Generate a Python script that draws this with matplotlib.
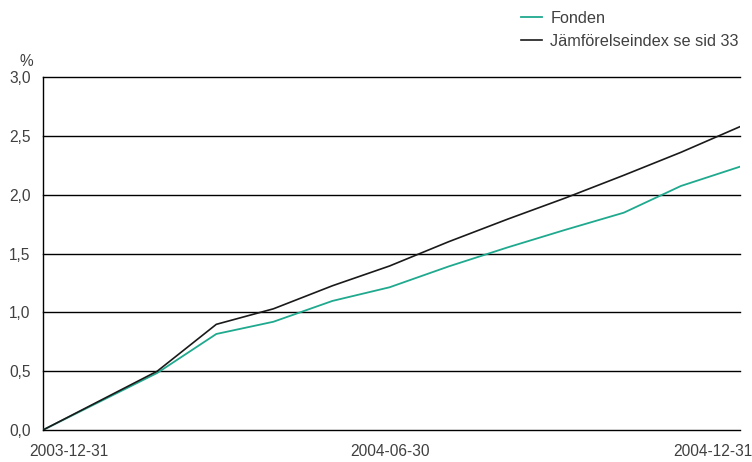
import matplotlib
matplotlib.use('Agg')
import matplotlib.pyplot as plt
import matplotlib.transforms as mtransforms
import numpy as np

# data (cumulative %, month ends)
dates = np.array(['2003-12-31', '2004-02-29', '2004-03-31', '2004-04-30',
                  '2004-05-31', '2004-06-30', '2004-07-31', '2004-08-31',
                  '2004-09-30', '2004-10-31', '2004-11-30', '2004-12-31'],
                 dtype='datetime64[D]')
fonden = [0.0, 0.485, 0.816, 0.92, 1.097, 1.213, 1.39, 1.552, 1.70, 1.847, 2.074, 2.238]
index = [0.0, 0.50, 0.898, 1.03, 1.226, 1.394, 1.60, 1.792, 1.97, 2.165, 2.36, 2.578]

x_ticks = np.array(['2003-12-31', '2004-06-30', '2004-12-31'], dtype='datetime64[D]')
x_labels = ['2003-12-31', '2004-06-30', '2004-12-31']
y_ticks = [0.0, 0.5, 1.0, 1.5, 2.0, 2.5, 3.0]
y_labels = ['0,0', '0,5', '1,0', '1,5', '2,0', '2,5', '3,0']

teal = '#1fa98e'
txt = '#404040'
fs = 11.2
plt.rcParams['font.family'] = ['Liberation Sans', 'DejaVu Sans']

fig = plt.figure(figsize=(7.52, 4.62), dpi=100)
ax = fig.add_axes([43 / 752, 32 / 462, 697 / 752, 353 / 462])

ax.plot(dates, fonden, color=teal, lw=1.3, label='Fonden', zorder=3)
ax.plot(dates, index, color='#1a1a1a', lw=1.2, label='Jämförelseindex se sid 33', zorder=3)

ax.set_xlim(dates[0], dates[-1])
ax.set_ylim(0, 3.0)
ax.set_yticks(y_ticks)
ax.set_yticklabels(y_labels)
ax.set_xticks(x_ticks)
ax.set_xticklabels(x_labels)
for yv in y_ticks:
    ax.axhline(yv, color='black', lw=1.0, clip_on=False, zorder=1)

for s in ['top', 'right', 'bottom']:
    ax.spines[s].set_visible(False)
ax.spines['left'].set_linewidth(1.0)
ax.tick_params(length=0, labelsize=fs, labelcolor=txt)
ax.tick_params(axis='y', pad=9)
ax.tick_params(axis='x', pad=10)

# edge date labels sit inside the figure
labs = ax.get_xticklabels()
labs[0].set_ha('left')
labs[0].set_transform(labs[0].get_transform() +
                      mtransforms.ScaledTranslation(-14 / 100, 0, fig.dpi_scale_trans))
labs[-1].set_ha('right')
labs[-1].set_transform(labs[-1].get_transform() +
                       mtransforms.ScaledTranslation(12 / 100, 0, fig.dpi_scale_trans))

fig.text(26 / 752, 1 - 61 / 462, '%', fontsize=fs, color=txt, ha='center', va='center')

ax.legend(loc='upper left', bbox_to_anchor=(521 / 752, 1 - 11 / 462),
          bbox_transform=fig.transFigure, frameon=False, fontsize=11.7,
          handlelength=1.3, handletextpad=0.5, labelspacing=0.5,
          borderpad=0, borderaxespad=0, labelcolor=txt)

fig.savefig('out.png', dpi=100)
